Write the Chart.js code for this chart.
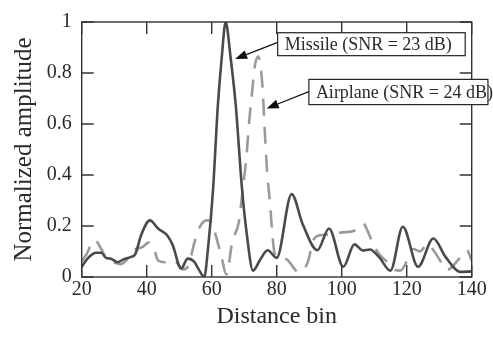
<!DOCTYPE html>
<html><head><meta charset="utf-8">
<script src="https://cdn.jsdelivr.net/npm/chart.js@4"></script>
<style>html,body{margin:0;padding:0;background:#fff;}#wrap{width:493px;height:337px;}</style>
</head><body><div id="wrap"><canvas id="c" width="493" height="337"></canvas></div>
<script>
// ---- data ----
const missileBins = [20,22,24.5,26,27.5,29,31,33,35,36.5,38.3,41,43.5,46.5,48,50.6,52.6,54.6,56,57.7,58.9,60.4,61.9,63.1,64.3,65.8,67.4,69.3,70.8,72.7,75,77.2,80,84.6,88,92.5,96.1,100.5,103.9,106.5,108.7,111.5,115,118.8,123.5,128.2,132,136.5,140];
const missileAmp  = [0.04,0.075,0.095,0.095,0.075,0.072,0.058,0.07,0.078,0.09,0.165,0.222,0.19,0.16,0.125,0.033,0.072,0.06,0.03,0.0,0.117,0.34,0.674,0.862,1.0,0.862,0.674,0.35,0.168,0.025,0.07,0.105,0.075,0.325,0.207,0.105,0.19,0.04,0.128,0.104,0.108,0.078,0.025,0.197,0.04,0.151,0.078,0.02,0.022];
const airplaneBins = [20,21.5,24,26,27.5,29.5,32,34,35.8,37.5,39,40.5,42,43.5,45.5,48.5,50,51.2,53,54.7,56.5,58.5,60,61,63,64.5,66.4,68.3,69.7,70.6,71.6,72.4,73.3,74.3,75,75.6,76.3,77,78,78.7,79.4,81,83.5,85,86.5,88,89.6,91.5,94,97.7,100,103,105,106.6,108,109.6,111.5,113.5,116.5,118,120,122,124,126.5,128.5,130.5,132.3,134,136,138.5,140];
const airplaneAmp  = [0.06,0.09,0.145,0.11,0.075,0.06,0.05,0.07,0.105,0.112,0.12,0.135,0.12,0.065,0.058,0.065,0.045,0.03,0.05,0.136,0.2,0.222,0.215,0.175,0.08,0.01,0.143,0.213,0.36,0.46,0.62,0.72,0.83,0.865,0.83,0.75,0.58,0.42,0.28,0.16,0.09,0.076,0.065,0.04,0.02,0.025,0.06,0.15,0.165,0.168,0.175,0.178,0.19,0.21,0.18,0.13,0.09,0.065,0.027,0.025,0.06,0.11,0.1,0.13,0.1,0.06,0.027,0.04,0.07,0.105,0.065];
const xTicks = [20,40,60,80,100,120,140];
const yTicks = [0,0.2,0.4,0.6,0.8,1];
const yTickLabels = ['0','0.2','0.4','0.6','0.8','1'];
const xTitle = 'Distance bin';
const yTitle = 'Normalized amplitude';
const noteTexts = ['Missile (SNR = 23 dB)','Airplane (SNR = 24 dB)'];

// annotation layout (in data coordinates)
const notes = [
  {text: noteTexts[0], box:[80.3,0.958,138,0.868], from:[80.3,0.92], to:[67.2,0.855]},
  {text: noteTexts[1], box:[89.9,0.775,145,0.676], from:[89.9,0.727], to:[76.9,0.661]}
];

const SERIF = '"Liberation Serif","Times New Roman",serif';
const INK = '#2a2a2a';

const framePlugin = {
  id: 'frame',
  afterDraw(chart) {
    const {ctx, chartArea: a, scales: {x, y}} = chart;
    ctx.save();
    ctx.strokeStyle = '#333';
    ctx.lineWidth = 1.4;
    ctx.strokeRect(a.left, a.top, a.right - a.left, a.bottom - a.top);
    const tl = 12;
    ctx.beginPath();
    xTicks.forEach(v => {
      const px = x.getPixelForValue(v);
      ctx.moveTo(px, a.bottom); ctx.lineTo(px, a.bottom - tl);
      ctx.moveTo(px, a.top); ctx.lineTo(px, a.top + tl);
    });
    yTicks.forEach(v => {
      const py = y.getPixelForValue(v);
      ctx.moveTo(a.left, py); ctx.lineTo(a.left + tl, py);
      ctx.moveTo(a.right, py); ctx.lineTo(a.right - tl, py);
    });
    ctx.stroke();

    // annotations
    ctx.font = '18px ' + SERIF;
    notes.forEach(n => {
      const x1 = x.getPixelForValue(n.box[0]), y1 = y.getPixelForValue(n.box[1]);
      const x2 = x.getPixelForValue(n.box[2]), y2 = y.getPixelForValue(n.box[3]);
      ctx.fillStyle = '#fff';
      ctx.fillRect(x1, y1, x2 - x1, y2 - y1);
      ctx.strokeStyle = '#222';
      ctx.lineWidth = 1.2;
      ctx.strokeRect(x1, y1, x2 - x1, y2 - y1);
      ctx.fillStyle = INK;
      ctx.textAlign = 'left';
      ctx.textBaseline = 'middle';
      ctx.fillText(n.text, x1 + 7, (y1 + y2) / 2 + 1);
      // arrow
      const fx = x.getPixelForValue(n.from[0]), fy = y.getPixelForValue(n.from[1]);
      const tx = x.getPixelForValue(n.to[0]), ty = y.getPixelForValue(n.to[1]);
      const ang = Math.atan2(ty - fy, tx - fx);
      const L = 12, W = 4.5;
      const bx = tx - L * Math.cos(ang), by = ty - L * Math.sin(ang);
      ctx.beginPath();
      ctx.moveTo(fx, fy); ctx.lineTo(bx, by);
      ctx.strokeStyle = '#111';
      ctx.lineWidth = 1.2;
      ctx.stroke();
      ctx.beginPath();
      ctx.moveTo(tx, ty);
      ctx.lineTo(bx + W * Math.sin(ang), by - W * Math.cos(ang));
      ctx.lineTo(bx - W * Math.sin(ang), by + W * Math.cos(ang));
      ctx.closePath();
      ctx.fillStyle = '#111';
      ctx.fill();
    });
    ctx.restore();
  }
};

new Chart(document.getElementById('c'), {
  type: 'line',
  data: {
    datasets: [
      {
        label: 'Missile',
        data: missileBins.map((b, i) => ({x: b, y: missileAmp[i]})),
        borderColor: '#4a4a4a',
        borderWidth: 2.6,
        pointRadius: 0,
        cubicInterpolationMode: 'monotone',
        fill: false,
        order: 0
      },
      {
        label: 'Airplane',
        data: airplaneBins.map((b, i) => ({x: b, y: airplaneAmp[i]})),
        borderColor: '#9a9a9a',
        borderWidth: 2.6,
        borderDash: [17, 11],
        pointRadius: 0,
        cubicInterpolationMode: 'monotone',
        fill: false,
        order: 1
      }
    ]
  },
  options: {
    responsive: false,
    devicePixelRatio: 1,
    animation: false,
    layout: {padding: {left: 0, right: 21.3, top: 17.5, bottom: 0}},
    plugins: {legend: {display: false}, tooltip: {enabled: false}},
    scales: {
      x: {
        type: 'linear', min: 20, max: 140,
        afterBuildTicks: s => { s.ticks = xTicks.map(v => ({value: v})); },
        ticks: {font: {family: SERIF, size: 20}, color: INK, padding: 1, maxRotation: 0, autoSkip: false},
        grid: {display: false, drawTicks: false},
        border: {display: false},
        title: {display: true, text: xTitle, font: {family: SERIF, size: 24}, color: INK, padding: {top: 0, bottom: 6}},
        afterFit: s => { s.height = 60; }
      },
      y: {
        type: 'linear', min: 0, max: 1,
        afterBuildTicks: s => { s.ticks = yTicks.map(v => ({value: v})); },
        ticks: {font: {family: SERIF, size: 20}, color: INK, padding: 10,
                callback: (v) => yTickLabels[yTicks.indexOf(v)] ?? ''},
        grid: {display: false, drawTicks: false},
        border: {display: false},
        title: {display: true, text: yTitle, font: {family: SERIF, size: 25}, color: INK, padding: {top: 9.5, bottom: 0}},
        afterFit: s => { s.width = 81.7; }
      }
    }
  },
  plugins: [framePlugin]
});
</script>
</body></html>
